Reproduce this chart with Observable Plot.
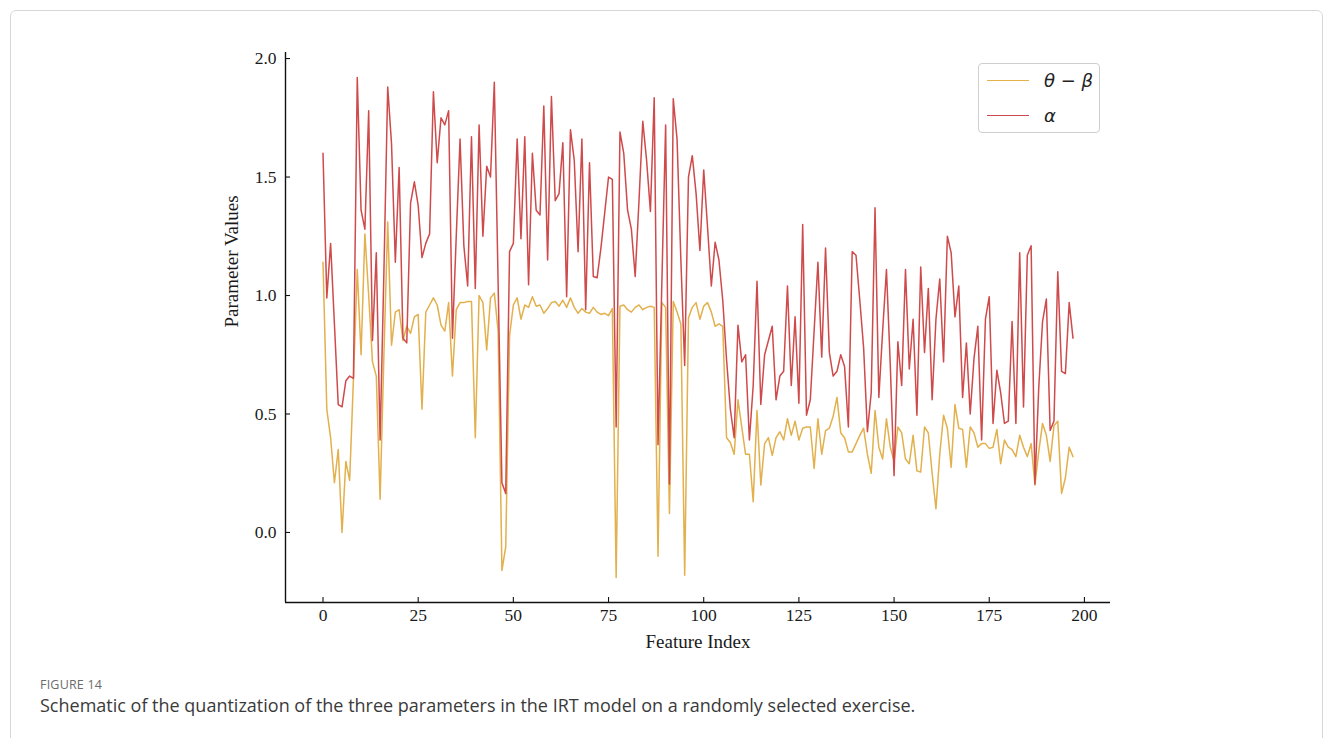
<!DOCTYPE html>
<html>
<head>
<meta charset="utf-8">
<script src="https://cdn.jsdelivr.net/npm/d3@7"></script>
<script src="https://cdn.jsdelivr.net/npm/@observablehq/plot@0.6"></script>
<style>
  html, body { margin: 0; padding: 0; background: #fff; }
  #wrap { position: relative; width: 1334px; height: 738px; overflow: hidden; }
  #border { position: absolute; left: 10px; top: 10px; width: 1313px; height: 760px; border: 1px solid #d8d8d8; border-radius: 6px; box-sizing: border-box; }
  #chart { position: absolute; left: 0; top: 0; }
  #legend { position: absolute; left: 978px; top: 63px; width: 122px; height: 70px; border: 1px solid #cfcfcf; border-radius: 4px; background: rgba(255,255,255,0.85); box-sizing: border-box; font-family: "DejaVu Sans", sans-serif; font-style: italic; font-size: 18px; color: #222; }
  .lg-row { position: absolute; left: 0; width: 120px; height: 24px; }
  .lg-line { position: absolute; left: 8px; top: 11px; width: 42px; height: 0; border-top: 1.6px solid; }
  .lg-text { position: absolute; left: 65px; top: 0; line-height: 24px; white-space: nowrap; }
  #figlabel { position: absolute; left: 40px; top: 676px; font-family: "Open Sans", sans-serif; font-size: 12.5px; color: #6b6b6b; letter-spacing: 0.2px; }
  #caption { position: absolute; left: 40px; top: 693px; font-family: "Open Sans", sans-serif; font-size: 18px; color: #3a3a3a; }
</style>
</head>
<body>
<div id="wrap">
  <div id="border"></div>
  <div id="chart"></div>
  <div id="legend"></div>
  <div id="figlabel">FIGURE 14</div>
  <div id="caption">Schematic of the quantization of the three parameters in the IRT model on a randomly selected exercise.</div>
</div>
<script>
// ---- Data ----
const seriesNames = ["θ − β", "α"];
const seriesColors = ["#e2b04c", "#cf4a4b"];

const thetaBeta = [
  1.14, 0.52, 0.40, 0.21, 0.35, 0.00, 0.30, 0.22, 0.65, 1.11,
  0.75, 1.26, 1.00, 0.72, 0.66, 0.14, 0.75, 1.31, 0.79, 0.93,
  0.94, 0.81, 0.87, 0.84, 0.91, 0.92, 0.52, 0.93, 0.96, 0.99,
  0.96, 0.875, 0.85, 0.97, 0.66, 0.94, 0.97, 0.97, 0.975, 0.975,
  0.40, 1.00, 0.97, 0.77, 0.99, 1.01, 0.85, -0.16, -0.06, 0.83,
  0.96, 0.99, 0.90, 0.96, 0.95, 0.995, 0.955, 0.96, 0.925, 0.945,
  0.97, 0.975, 0.955, 0.98, 0.95, 0.99, 0.95, 0.925, 0.945, 0.93,
  0.925, 0.95, 0.93, 0.92, 0.925, 0.915, 0.945, -0.19, 0.955, 0.96,
  0.94, 0.93, 0.95, 0.96, 0.94, 0.95, 0.955, 0.95, -0.10, 0.97,
  0.95, 0.08, 0.975, 0.93, 0.88, -0.18, 0.905, 0.95, 0.97, 0.90,
  0.955, 0.97, 0.93, 0.87, 0.88, 0.87, 0.40, 0.38, 0.33, 0.56,
  0.445, 0.33, 0.33, 0.13, 0.515, 0.20, 0.375, 0.40, 0.325, 0.40,
  0.425, 0.39, 0.48, 0.41, 0.47, 0.39, 0.44, 0.445, 0.445, 0.27,
  0.48, 0.33, 0.43, 0.44, 0.49, 0.57, 0.42, 0.40, 0.34, 0.34,
  0.375, 0.41, 0.44, 0.33, 0.25, 0.515, 0.36, 0.31, 0.48, 0.36,
  0.30, 0.445, 0.42, 0.31, 0.29, 0.41, 0.26, 0.255, 0.445, 0.42,
  0.25, 0.10, 0.33, 0.495, 0.44, 0.275, 0.54, 0.44, 0.435, 0.275,
  0.445, 0.42, 0.36, 0.375, 0.375, 0.355, 0.36, 0.435, 0.29, 0.39,
  0.36, 0.35, 0.32, 0.41, 0.36, 0.32, 0.375, 0.20, 0.34, 0.46,
  0.41, 0.30, 0.45, 0.47, 0.165, 0.23, 0.36, 0.32
];

const alpha = [
  1.60, 0.99, 1.22, 0.88, 0.54, 0.53, 0.64, 0.66, 0.65, 1.92,
  1.36, 1.28, 1.78, 0.81, 1.18, 0.39, 1.10, 1.88, 1.64, 1.14,
  1.54, 0.82, 0.80, 1.39, 1.48, 1.38, 1.16, 1.22, 1.26, 1.86,
  1.56, 1.75, 1.72, 1.78, 0.82, 1.25, 1.66, 1.21, 1.04, 1.67,
  1.03, 1.72, 1.25, 1.545, 1.50, 1.90, 1.05, 0.21, 0.165, 1.185,
  1.22, 1.66, 1.24, 1.67, 1.045, 1.60, 1.36, 1.34, 1.80, 1.15,
  1.84, 1.40, 1.43, 1.645, 0.995, 1.70, 1.57, 1.185, 1.66, 0.94,
  1.56, 1.08, 1.075, 1.20, 1.35, 1.50, 1.49, 0.445, 1.69, 1.60,
  1.36, 1.28, 1.08, 1.40, 1.735, 1.57, 1.355, 1.835, 0.37, 1.05,
  1.72, 0.205, 1.83, 1.66, 1.15, 0.705, 1.50, 1.59, 1.43, 1.19,
  1.53, 1.29, 1.04, 1.225, 1.15, 0.98, 0.73, 0.52, 0.40, 0.875,
  0.72, 0.75, 0.39, 0.62, 1.06, 0.54, 0.75, 0.81, 0.87, 0.56,
  0.66, 0.68, 1.04, 0.62, 0.91, 0.545, 1.30, 0.495, 0.56, 0.85,
  1.14, 0.74, 1.20, 0.76, 0.66, 0.68, 0.75, 0.70, 0.445, 1.185,
  1.17, 0.98, 0.78, 0.425, 0.59, 1.37, 0.57, 0.85, 1.11, 0.71,
  0.24, 0.805, 0.62, 1.11, 0.69, 0.90, 0.495, 1.12, 0.76, 1.03,
  0.56, 0.90, 1.07, 0.72, 1.25, 1.18, 0.91, 1.04, 0.57, 0.80,
  0.50, 0.735, 0.87, 0.39, 0.90, 0.995, 0.46, 0.685, 0.59, 0.46,
  0.47, 0.89, 0.46, 1.18, 0.53, 1.17, 1.21, 0.205, 0.61, 0.89,
  0.985, 0.43, 0.47, 1.10, 0.68, 0.67, 0.97, 0.82
];

const featureIndex = d3.range(thetaBeta.length);
const xTicks = [0, 25, 50, 75, 100, 125, 150, 175, 200];
const yTicks = [0.0, 0.5, 1.0, 1.5, 2.0];
const xLabel = "Feature Index";
const yLabel = "Parameter Values";

// ---- Build ----
const W = 1334, H = 660;
const mL = 285, mR = 224, mT = 52, mB = 58;
const plotW = W - mL - mR, plotH = H - mT - mB;

// matplotlib-like 5% margins
const xSpan = featureIndex[featureIndex.length - 1] - featureIndex[0];
const xDomain = [featureIndex[0] - 0.05 * xSpan, featureIndex[featureIndex.length - 1] + 0.05 * xSpan];
const allY = thetaBeta.concat(alpha);
const yMin = d3.min(allY), yMax = d3.max(allY);
const ySpan = yMax - yMin;
const yDomain = [yMin - 0.05 * ySpan, 2.0255];

const rows = [];
featureIndex.forEach((x, i) => {
  rows.push({x, y: thetaBeta[i], s: seriesNames[0]});
});
featureIndex.forEach((x, i) => {
  rows.push({x, y: alpha[i], s: seriesNames[1]});
});

const chart = Plot.plot({
  width: W, height: H,
  marginLeft: mL, marginRight: mR, marginTop: mT, marginBottom: mB,
  x: {domain: xDomain},
  y: {domain: yDomain},
  style: {fontFamily: "'Liberation Serif', 'Times New Roman', serif", fontSize: "17px", color: "#1a1a1a", background: "transparent", overflow: "visible"},
  marks: [
    Plot.line(rows.filter(d => d.s === seriesNames[0]), {x: "x", y: "y", stroke: seriesColors[0], strokeWidth: 1.5}),
    Plot.line(rows.filter(d => d.s === seriesNames[1]), {x: "x", y: "y", stroke: seriesColors[1], strokeWidth: 1.5}),
    Plot.ruleX([xDomain[0]], {stroke: "#111", strokeWidth: 1.4}),
    Plot.ruleY([yDomain[0]], {stroke: "#111", strokeWidth: 1.4}),
    Plot.tickY(yTicks, {y: d => d, insetRight: plotW - 5, stroke: "#111", strokeWidth: 1.1}),
    Plot.tickX(xTicks, {x: d => d, insetTop: plotH - 5, stroke: "#111", strokeWidth: 1.1}),
    Plot.axisY(yTicks, {tickSize: 0, tickPadding: 9, tickFormat: d3.format(".1f"), label: null, fontSize: 17.5}),
    Plot.axisX(xTicks, {tickSize: 0, tickPadding: 6, tickFormat: d => String(d), label: null, fontSize: 17.5}),
    Plot.text([xLabel], {frameAnchor: "bottom", dy: 45, fontSize: 19, fill: "#1a1a1a"}),
    Plot.text([yLabel], {frameAnchor: "left", dx: -54, rotate: -90, fontSize: 19, fill: "#1a1a1a"})
  ]
});
document.getElementById("chart").appendChild(chart);

// Legend
const legend = document.getElementById("legend");
seriesNames.forEach((name, i) => {
  const row = document.createElement("div");
  row.className = "lg-row";
  row.style.top = (5 + i * 35) + "px";
  const line = document.createElement("div");
  line.className = "lg-line";
  line.style.borderTopColor = seriesColors[i];
  const txt = document.createElement("div");
  txt.className = "lg-text";
  txt.textContent = name;
  row.appendChild(line);
  row.appendChild(txt);
  legend.appendChild(row);
});
</script>
</body>
</html>
